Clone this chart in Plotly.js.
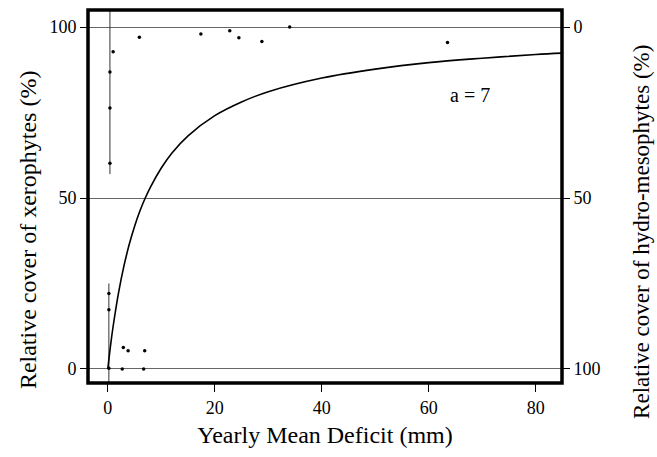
<!DOCTYPE html>
<html><head><meta charset="utf-8">
<script src="https://cdn.plot.ly/plotly-3.0.1.min.js"></script>
<style>html,body{margin:0;padding:0;background:#fff}#c{width:657px;height:457px}</style>
</head><body><div id="c"></div>
<script>
// Observed points (xerophyte cover, %)
var topX = [1.0, 5.9, 17.4, 22.8, 24.5, 28.8, 34.0, 63.5, 0.4, 0.4, 0.4];
var topY = [92.8, 97.0, 98.0, 98.9, 96.9, 95.8, 100, 95.5, 86.9, 76.3, 60.2];
var botX = [2.9, 3.8, 6.9, 0.2, 2.7, 6.7, 0.2, 0.2];
var botY = [6.3, 5.3, 5.3, 0.2, 0, 0, 22.1, 17.3];
// dense vertical spreads of points at x ~ 0
var spreadTopX = [0.4, 0.4];
var spreadTopY = [57, 106];
var spreadBotX = [0.2, 0.2];
var spreadBotY = [25, -5];
// fitted curve (a = 7)
var curveX = [0, 0.5, 1, 2, 3, 4, 5, 6, 7, 8, 10, 12, 15, 20, 25, 30, 40, 50, 60, 70, 80, 85];
var curveY = [0, 6.7, 12.5, 22.2, 30, 36.4, 41.7, 46.2, 50, 53.3, 58.8, 63.2, 68.2, 74.1, 78.1, 81.1, 85.1, 87.7, 89.6, 90.9, 92.0, 92.4];
var xTicks = [0, 20, 40, 60, 80];
var yTicks = [0, 50, 100];
var y2Ticks = [0, 50, 100];

var serif = "Liberation Serif";
var traces = [
  {x: spreadTopX, y: spreadTopY, mode: 'lines', line: {color: '#333', width: 1}, hoverinfo: 'skip'},
  {x: spreadBotX, y: spreadBotY, mode: 'lines', line: {color: '#333', width: 1}, hoverinfo: 'skip'},
  {x: curveX, y: curveY, mode: 'lines', line: {color: '#000', width: 1.6, shape: 'spline'}},
  {x: topX, y: topY, mode: 'markers', marker: {color: '#000', size: 3.5}},
  {x: botX, y: botY, mode: 'markers', marker: {color: '#000', size: 3.5}},
  {x: [0], y: [0], yaxis: 'y2', mode: 'markers', marker: {opacity: 0}, hoverinfo: 'skip'}
];
var layout = {
  width: 657, height: 457,
  margin: {l: 88, r: 95, t: 10, b: 74},
  showlegend: false,
  paper_bgcolor: '#fff', plot_bgcolor: '#fff',
  font: {family: serif, color: '#000', size: 18},
  xaxis: {
    range: [-3.7, 84.9], tickvals: xTicks, ticks: 'outside', ticklen: 8, tickcolor: '#000',
    showgrid: false, zeroline: false, showline: false,
    tickfont: {family: serif, size: 18, color: '#000'},
    title: {text: 'Yearly Mean Deficit (mm)', font: {family: serif, size: 24, color: '#000'}, standoff: 9}
  },
  yaxis: {
    range: [-4.1, 105], tickvals: yTicks, ticks: 'outside', ticklen: 7, tickcolor: '#000',
    showgrid: true, gridcolor: '#666', gridwidth: 1, zeroline: false, showline: false,
    tickfont: {family: serif, size: 18, color: '#000'}
  },
  yaxis2: {
    overlaying: 'y', side: 'right',
    range: [104.1, -5], tickvals: y2Ticks, ticks: 'outside', ticklen: 7, tickcolor: '#000',
    showgrid: false, zeroline: false, showline: false,
    tickfont: {family: serif, size: 18, color: '#000'}
  },
  shapes: [
    {type: 'rect', xref: 'paper', yref: 'paper', x0: 0, x1: 1, y0: 0, y1: 1, line: {color: '#000', width: 3.5}}
  ],
  annotations: [
    {x: 67.7, y: 80, xref: 'x', yref: 'y', text: 'a = 7', showarrow: false, font: {family: serif, size: 20, color: '#000'}},
    {xref: 'paper', yref: 'paper', x: -0.1265, y: 0.41, xanchor: 'center', yanchor: 'middle', textangle: -90,
     text: 'Relative cover of xerophytes (%)', showarrow: false, font: {family: serif, size: 24, color: '#000'}},
    {xref: 'paper', yref: 'paper', x: 1.1687, y: 0.405, xanchor: 'center', yanchor: 'middle', textangle: -90,
     text: 'Relative cover of hydro-mesophytes (%)', showarrow: false, font: {family: serif, size: 23, color: '#000'}}
  ]
};
Plotly.newPlot('c', traces, layout, {displayModeBar: false});
</script>
</body></html>
